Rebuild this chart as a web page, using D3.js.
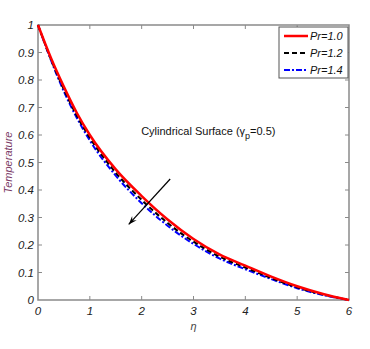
<!DOCTYPE html>
<html>
<head>
<meta charset="utf-8">
<script src="https://cdn.jsdelivr.net/npm/d3@7"></script>
<style>
  body { margin: 0; background: #fff; }
  svg text { font-family: "Liberation Sans", Arial, sans-serif; }
</style>
</head>
<body>
<svg id="chart" width="370" height="349"></svg>
<script>
"use strict";

// data
const eta   = [0, 0.25, 0.5, 0.75, 1, 1.5, 2, 2.5, 3, 3.5, 4, 4.5, 5, 5.5, 6];
const pr10  = [1, 0.88, 0.775, 0.68, 0.60, 0.475, 0.378, 0.293, 0.222, 0.166, 0.125, 0.085, 0.05, 0.022, 0];
const pr12  = [1, 0.875, 0.766, 0.67, 0.59, 0.463, 0.364, 0.28, 0.212, 0.158, 0.118, 0.08, 0.046, 0.02, 0];
const pr14  = [1, 0.872, 0.758, 0.662, 0.58, 0.452, 0.352, 0.27, 0.204, 0.151, 0.112, 0.076, 0.043, 0.018, 0];
const seriesNames = ["Pr=1.0", "Pr=1.2", "Pr=1.4"];
const xTicks = [0, 1, 2, 3, 4, 5, 6];
const yTicks = [0, 0.1, 0.2, 0.3, 0.4, 0.5, 0.6, 0.7, 0.8, 0.9, 1];
// arrow, in data units: from -> to
const arrowFrom = [2.55, 0.44];
const arrowTo   = [1.75, 0.275];

const margin = { top: 25, right: 21, bottom: 49, left: 38 };
const width  = 370 - margin.left - margin.right;
const height = 349 - margin.top - margin.bottom;

const x = d3.scaleLinear().domain([0, 6]).range([0, width]);
const y = d3.scaleLinear().domain([0, 1]).range([height, 0]);

const svg = d3.select("#chart")
  .append("g")
    .attr("transform", "translate(" + margin.left + "," + margin.top + ")");

const axisColor = "#8a8a8a";
const fmt = (d) => d === 0 || d === 1 ? String(d) : d3.format(".1f")(d);

// box
svg.append("rect")
    .attr("width", width).attr("height", height)
    .attr("fill", "none").attr("stroke", axisColor).attr("stroke-width", 1.5);

// ticks inward on all four sides
const tickLen = 4;
svg.append("g").selectAll("line").data(xTicks.slice(1, -1)).enter().append("line")
    .attr("x1", (d) => x(d)).attr("x2", (d) => x(d))
    .attr("y1", height).attr("y2", height - tickLen)
    .attr("stroke", axisColor);
svg.append("g").selectAll("line").data(xTicks.slice(1, -1)).enter().append("line")
    .attr("x1", (d) => x(d)).attr("x2", (d) => x(d))
    .attr("y1", 0).attr("y2", tickLen)
    .attr("stroke", axisColor);
svg.append("g").selectAll("line").data(yTicks.slice(1, -1)).enter().append("line")
    .attr("x1", 0).attr("x2", tickLen)
    .attr("y1", (d) => y(d)).attr("y2", (d) => y(d))
    .attr("stroke", axisColor);
svg.append("g").selectAll("line").data(yTicks.slice(1, -1)).enter().append("line")
    .attr("x1", width).attr("x2", width - tickLen)
    .attr("y1", (d) => y(d)).attr("y2", (d) => y(d))
    .attr("stroke", axisColor);

// tick labels
svg.append("g").selectAll("text").data(xTicks).enter().append("text")
    .attr("x", (d) => x(d)).attr("y", height + 15)
    .attr("text-anchor", "middle")
    .attr("font-size", 11.5).attr("font-style", "italic").attr("fill", "#222")
    .text((d) => d);
svg.append("g").selectAll("text").data(yTicks).enter().append("text")
    .attr("x", -4).attr("y", (d) => y(d)).attr("dy", "0.35em")
    .attr("text-anchor", "end")
    .attr("font-size", 11.5).attr("font-style", "italic").attr("fill", "#222")
    .text(fmt);

// axis titles
svg.append("text")
    .attr("x", x(3)).attr("y", height + 30)
    .attr("text-anchor", "middle")
    .attr("font-family", "DejaVu Serif").attr("font-size", 11)
    .attr("font-style", "italic").attr("fill", "#444")
    .text("η");
svg.append("text")
    .attr("transform", "translate(-26," + y(0.5) + ") rotate(-90)")
    .attr("text-anchor", "middle")
    .attr("font-size", 11).attr("font-style", "italic").attr("fill", "#7a3a66")
    .text("Temperature");

// curves
const series = [
  { name: seriesNames[0], values: pr10, color: "#ff0000", dash: null,            w: 2.5 },
  { name: seriesNames[1], values: pr12, color: "#000000", dash: "5,3",           w: 2 },
  { name: seriesNames[2], values: pr14, color: "#0000ff", dash: "6,2,2,2",       w: 2 }
];
const line = d3.line()
    .curve(d3.curveMonotoneX)
    .x((d, i) => x(eta[i]))
    .y((d) => y(d));

series.slice().reverse().forEach((s) => {
  svg.append("path")
      .attr("d", line(s.values))
      .attr("fill", "none")
      .attr("stroke", s.color)
      .attr("stroke-width", s.w)
      .attr("stroke-dasharray", s.dash);
});

// annotation
const note = svg.append("text")
    .attr("x", x(1.99)).attr("y", y(0.6))
    .attr("font-size", 11).attr("fill", "#111");
note.append("tspan").text("Cylindrical Surface (γ");
note.append("tspan").attr("dy", 4).attr("font-size", 9).text("p");
note.append("tspan").attr("dy", -4).text("=0.5)");

// arrow
const ax1 = x(arrowFrom[0]), ay1 = y(arrowFrom[1]);
const ax2 = x(arrowTo[0]),   ay2 = y(arrowTo[1]);
svg.append("line")
    .attr("x1", ax1).attr("y1", ay1).attr("x2", ax2).attr("y2", ay2)
    .attr("stroke", "#000").attr("stroke-width", 1.2);
const ang = Math.atan2(ay2 - ay1, ax2 - ax1);
const hl = 9, hw = 0.35;
svg.append("path")
    .attr("d", "M" + ax2 + "," + ay2 +
               "L" + (ax2 - hl * Math.cos(ang - hw)) + "," + (ay2 - hl * Math.sin(ang - hw)) +
               "L" + (ax2 - hl * 0.6 * Math.cos(ang)) + "," + (ay2 - hl * 0.6 * Math.sin(ang)) +
               "L" + (ax2 - hl * Math.cos(ang + hw)) + "," + (ay2 - hl * Math.sin(ang + hw)) + "Z")
    .attr("fill", "#000");

// legend
const legend = svg.append("g")
    .attr("transform", "translate(" + (width - 70) + ",2)");
legend.append("rect")
    .attr("width", 69).attr("height", 51)
    .attr("fill", "#fff").attr("stroke", "#555").attr("stroke-width", 1);
series.forEach((s, i) => {
  const g = legend.append("g").attr("transform", "translate(0," + (9 + i * 17) + ")");
  g.append("line")
      .attr("x1", 5).attr("x2", 29)
      .attr("stroke", s.color).attr("stroke-width", s.w)
      .attr("stroke-dasharray", s.dash);
  g.append("text")
      .attr("x", 31).attr("dy", "0.35em")
      .attr("font-size", 11).attr("font-style", "italic").attr("fill", "#111")
      .text(s.name);
});
</script>
</body>
</html>
